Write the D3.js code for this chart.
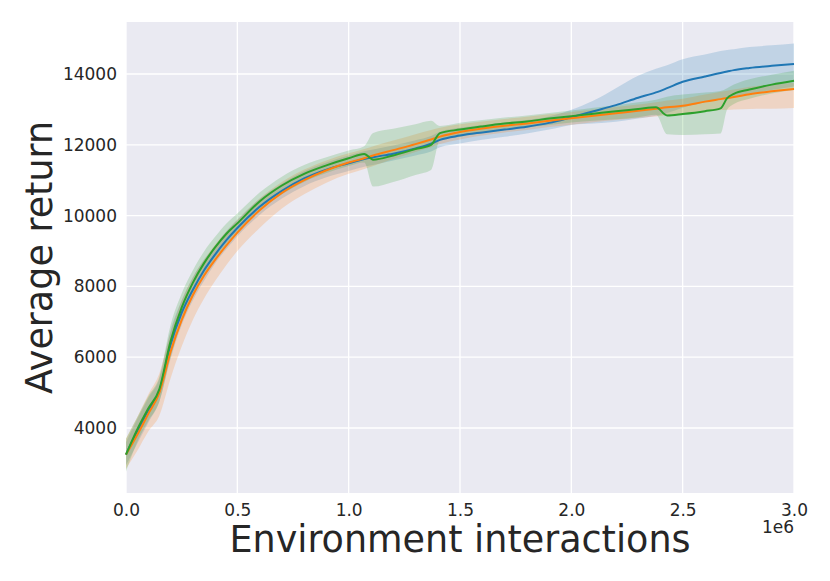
<!DOCTYPE html>
<html>
<head>
<meta charset="utf-8">
<script src="https://cdn.jsdelivr.net/npm/d3@7"></script>
<style>
  body { margin: 0; background: #fff; }
  text { font-family: "DejaVu Sans", sans-serif; fill: #262626; }
</style>
</head>
<body>
<div id="chart"></div>
<script>
// environment steps shared by all runs
var steps = [0, 0.05, 0.1, 0.15, 0.2, 0.25, 0.3, 0.35, 0.4, 0.45, 0.5, 0.6, 0.7, 0.8, 0.9, 1.0,
  1.07, 1.11, 1.2, 1.3, 1.37, 1.41, 1.5, 1.6, 1.7, 1.8, 1.9, 2.0, 2.1, 2.2, 2.3, 2.38, 2.43,
  2.5, 2.6, 2.67, 2.7, 2.73, 2.8, 2.9, 3.0].map(function(s) { return s * 1e6; });

var blueMean = [3250, 3900, 4500, 5050, 6350, 7250, 7900, 8450, 8900, 9300, 9650, 10250, 10700, 11050, 11300, 11480,
  11600, 11650, 11750, 11900, 12030, 12140, 12260, 12350, 12430, 12510, 12620, 12780, 12950, 13120, 13330, 13480, 13600,
  13780, 13930, 14030, 14070, 14110, 14170, 14230, 14280];
var blueLo = [2950, 3550, 4150, 4750, 5950, 6900, 7600, 8150, 8650, 9050, 9420, 10020, 10480, 10830, 11080, 11260,
  11380, 11430, 11560, 11700, 11810, 11930, 12040, 12140, 12230, 12320, 12430, 12560, 12600, 12650, 12740, 12820, 12900,
  13050, 13200, 13300, 13330, 13370, 13450, 13550, 13650];
var blueHi = [3600, 4250, 4850, 5400, 6750, 7600, 8250, 8750, 9150, 9550, 9880, 10470, 10900, 11250, 11500, 11700,
  11820, 11870, 11980, 12130, 12250, 12370, 12480, 12560, 12630, 12700, 12800, 12990, 13250, 13600, 13950, 14150, 14250,
  14420, 14550, 14650, 14680, 14700, 14760, 14810, 14860];

var orangeMean = [3250, 3800, 4400, 5000, 6150, 7050, 7750, 8300, 8750, 9150, 9520, 10150, 10640, 11000, 11280, 11500,
  11620, 11700, 11850, 12020, 12150, 12230, 12360, 12460, 12540, 12600, 12680, 12750, 12820, 12890, 12960, 13020, 13060,
  13100, 13220, 13290, 13320, 13350, 13430, 13510, 13580];
var orangeLo = [2850, 3350, 3900, 4350, 5400, 6300, 7050, 7650, 8150, 8600, 9000, 9650, 10200, 10600, 10930, 11180,
  11320, 11400, 11600, 11800, 11930, 12020, 12150, 12260, 12350, 12420, 12500, 12570, 12640, 12700, 12760, 12800, 12840,
  12880, 12940, 12980, 12990, 13000, 13010, 13020, 13040];
var orangeHi = [3700, 4300, 4950, 5550, 6700, 7600, 8250, 8750, 9180, 9550, 9880, 10480, 10950, 11300, 11560, 11760,
  11880, 11960, 12120, 12300, 12420, 12480, 12580, 12660, 12730, 12790, 12860, 12930, 13000, 13070, 13140, 13200, 13250,
  13300, 13420, 13500, 13530, 13560, 13640, 13700, 13750];

var greenMean = [3250, 3950, 4550, 5100, 6450, 7400, 8100, 8650, 9100, 9480, 9780, 10400, 10850, 11180, 11420, 11620,
  11740, 11580, 11700, 11880, 12000, 12330, 12430, 12520, 12600, 12660, 12740, 12810, 12880, 12950, 13010, 13060, 12830,
  12870, 12950, 13030, 13320, 13440, 13560, 13700, 13810];
var greenLo = [2770, 3600, 4200, 4750, 6000, 7000, 7700, 8300, 8800, 9200, 9550, 10150, 10600, 10950, 11200, 11400,
  11500, 10820, 10950, 11150, 11290, 12140, 12230, 12330, 12420, 12490, 12560, 12630, 12680, 12720, 12780, 12850, 12300,
  12280, 12300, 12320, 13000, 13150, 13300, 13450, 13550];
var greenHi = [3700, 4300, 4900, 5450, 6900, 7800, 8450, 8980, 9400, 9770, 10060, 10650, 11100, 11430, 11650, 11840,
  11960, 12330, 12450, 12580, 12680, 12530, 12620, 12700, 12770, 12830, 12900, 12970, 13050, 13120, 13200, 13270, 13360,
  13420, 13480, 13520, 13600, 13700, 13850, 13980, 14090];

var xTicks = [0, 0.5e6, 1e6, 1.5e6, 2e6, 2.5e6, 3e6];
var yTicks = [4000, 6000, 8000, 10000, 12000, 14000];

var runs = [
  {color: "#1f77b4", mean: blueMean, lo: blueLo, hi: blueHi},
  {color: "#ff7f0e", mean: orangeMean, lo: orangeLo, hi: orangeHi},
  {color: "#2ca02c", mean: greenMean, lo: greenLo, hi: greenHi}
];

var margin = {top: 22, right: 36, bottom: 88, left: 126},
    width = 830 - margin.left - margin.right,
    height = 581 - margin.top - margin.bottom;

var svg = d3.select("#chart")
  .append("svg")
    .attr("width", 830)
    .attr("height", 581)
  .append("g")
    .attr("transform", "translate(" + margin.left + "," + margin.top + ")");

var x = d3.scaleLinear().domain([0, 3e6]).range([0, width]);
var y = d3.scaleLinear().domain([2164, 15469]).range([height, 0]);

svg.append("rect")
  .attr("width", width)
  .attr("height", height)
  .attr("fill", "#eaeaf2");

// grid
svg.selectAll(".xgrid")
  .data(xTicks)
  .enter()
  .append("line")
    .attr("x1", function(d) { return x(d); })
    .attr("x2", function(d) { return x(d); })
    .attr("y1", 0)
    .attr("y2", height)
    .attr("stroke", "#fff")
    .attr("stroke-width", 1.3);

svg.selectAll(".ygrid")
  .data(yTicks)
  .enter()
  .append("line")
    .attr("x1", 0)
    .attr("x2", width)
    .attr("y1", function(d) { return y(d); })
    .attr("y2", function(d) { return y(d); })
    .attr("stroke", "#fff")
    .attr("stroke-width", 1.3);

var area = d3.area()
  .curve(d3.curveMonotoneX)
  .x(function(d) { return x(d.s); })
  .y0(function(d) { return y(d.lo); })
  .y1(function(d) { return y(d.hi); });

var line = d3.line()
  .curve(d3.curveMonotoneX)
  .x(function(d) { return x(d.s); })
  .y(function(d) { return y(d.m); });

var plot = svg.append("g");

runs.forEach(function(r) {
  var pts = steps.map(function(s, i) { return {s: s, m: r.mean[i], lo: r.lo[i], hi: r.hi[i]}; });
  r.pts = pts;
  plot.append("path")
    .attr("d", area(pts))
    .attr("fill", r.color)
    .attr("fill-opacity", 0.2);
});

runs.forEach(function(r) {
  plot.append("path")
    .attr("d", line(r.pts))
    .attr("stroke", r.color)
    .attr("stroke-width", 2)
    .attr("fill", "none");
});

// axes
var xAxis = svg.append("g")
  .attr("transform", "translate(0," + height + ")")
  .call(d3.axisBottom(x).tickValues(xTicks).tickSize(0).tickPadding(11)
    .tickFormat(function(d) { return d3.format(".1f")(d / 1e6); }));

var yAxis = svg.append("g")
  .call(d3.axisLeft(y).tickValues(yTicks).tickSize(0).tickPadding(9)
    .tickFormat(d3.format("d")));

[xAxis, yAxis].forEach(function(a) {
  a.select(".domain").remove();
  a.selectAll("text")
    .style("font-size", "17px")
    .style("font-family", "DejaVu Sans")
    .attr("fill", "#262626");
});

svg.append("text")
  .attr("x", width)
  .attr("y", height + 40)
  .attr("text-anchor", "end")
  .style("font-size", "17px")
  .text("1e6");

svg.append("text")
  .attr("x", width / 2)
  .attr("y", height + 59)
  .attr("text-anchor", "middle")
  .style("font-size", "36.5px")
  .text("Environment interactions");

svg.append("text")
  .attr("transform", "translate(" + (52 - margin.left) + "," + (height / 2) + ") rotate(-90)")
  .attr("text-anchor", "middle")
  .style("font-size", "36.5px")
  .text("Average return");
</script>
</body>
</html>
